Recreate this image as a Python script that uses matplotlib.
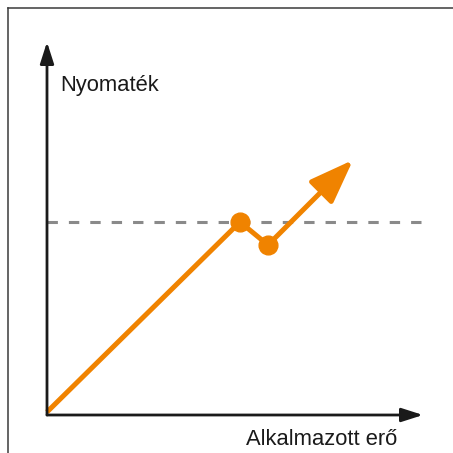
import matplotlib
matplotlib.use("Agg")
import matplotlib.pyplot as plt
from matplotlib.lines import Line2D

# nyomaték - alkalmazott erő görbe (tetszőleges egységek)
ero = [0, 193, 221]
nyomatek = [3, 193, 170]
ero_vege = 306
nyomatek_vege = 255
hatar = 193  # szaggatott vonal szintje

narancs = "#F08300"
szurke = "#8a8a8a"
fekete = "#1a1a1a"

fig = plt.figure(figsize=(4.53, 4.53), dpi=100)
ax = fig.add_axes([0, 0, 1, 1])
ax.set_xlim(-47, 406)
ax.set_ylim(-38, 415)
ax.axis("off")

# keret (csak a bal és felső éle látszik)
k = 7.5 / 453
fig.add_artist(Line2D([k, k], [0, 1 - k], transform=fig.transFigure,
                      color="#3a3a3a", lw=1.1))
fig.add_artist(Line2D([k, 1], [1 - k, 1 - k], transform=fig.transFigure,
                      color="#3a3a3a", lw=1.1))

# tengelyek nyíllal
nyil = dict(arrowstyle="-|>,head_length=1.0,head_width=0.32",
            mutation_scale=13, lw=2.0, color=fekete, shrinkA=0, shrinkB=0)
ax.annotate("", xy=(376, 0), xytext=(0, 0), arrowprops=nyil)
ax.annotate("", xy=(0, 373), xytext=(0, 0), arrowprops=nyil)

# határérték
ax.plot([0, 378], [hatar, hatar], color=szurke, lw=2.2, dashes=(3.4, 3.6))

# görbe
ax.plot(ero, nyomatek, color=narancs, lw=3.6, solid_capstyle="butt")
ax.plot(ero[1:], nyomatek[1:], "o", color=narancs, ms=13.5)
ax.annotate("", xy=(ero_vege, nyomatek_vege), xytext=(ero[-1], nyomatek[-1]),
            arrowprops=dict(arrowstyle="-|>,head_length=1.0,head_width=0.37",
                            mutation_scale=27, lw=3.6, color=narancs,
                            shrinkA=0, shrinkB=0))

ax.text(13, 324, "Nyomaték", fontsize=15.8, family="Liberation Sans",
        color=fekete, va="baseline", ha="left")
ax.text(350, -30, "Alkalmazott erő", fontsize=15.8, family="Liberation Sans",
        color=fekete, va="baseline", ha="right")

fig.savefig("out.png", dpi=100)
